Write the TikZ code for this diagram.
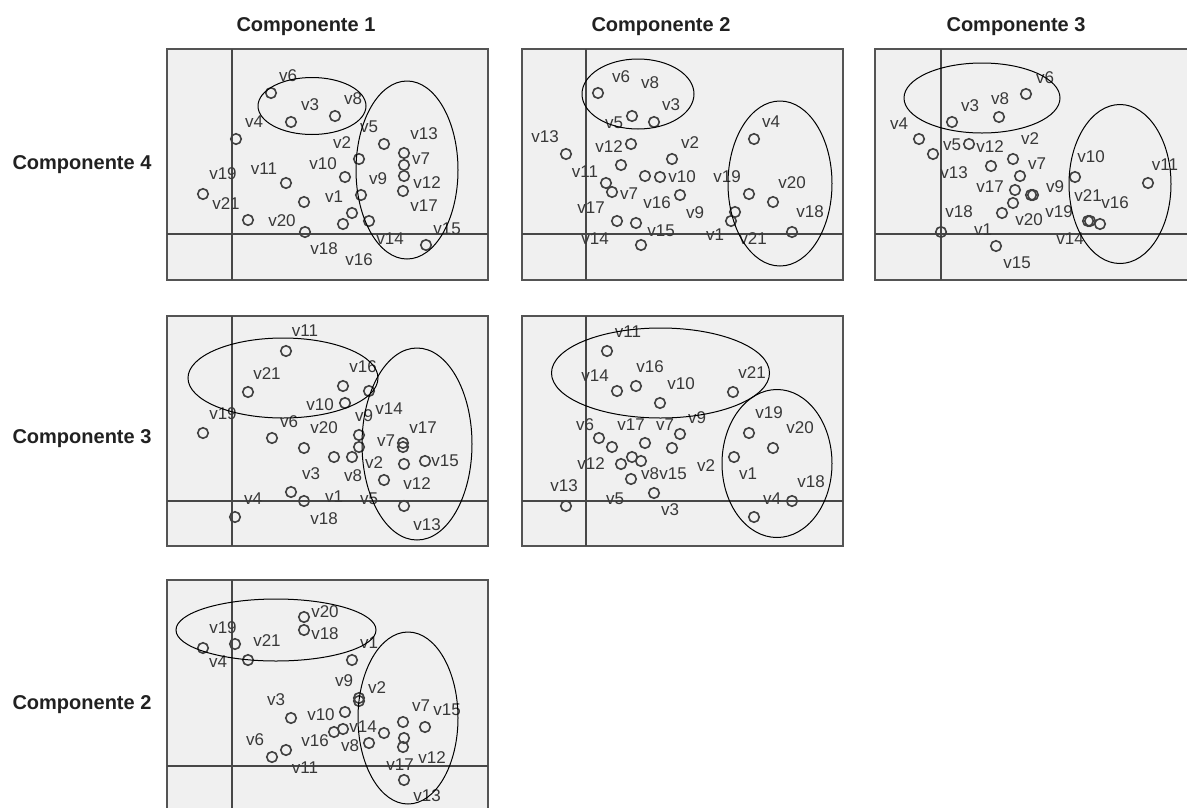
\documentclass[tikz,border=0pt]{standalone}
\usepackage{fontspec}
\setmainfont{Liberation Sans}
\definecolor{bgray}{gray}{0.94}
\definecolor{bord}{gray}{0.33}
\definecolor{axc}{gray}{0.28}
\definecolor{ptc}{gray}{0.25}
\definecolor{labc}{gray}{0.22}
\definecolor{titc}{gray}{0.13}
\begin{document}
\begin{tikzpicture}[x=1pt,y=-1pt,
  panel/.style={fill=bgray, draw=bord, line width=2pt},
  axis/.style={draw=axc, line width=1.6pt},
  pt/.style={circle, draw=ptc, line width=1.6pt, minimum size=10.5pt, inner sep=0pt},
  lab/.style={text=labc, inner sep=0pt, font=\fontsize{17}{17}\selectfont},
  grp/.style={draw=black, line width=1pt},
  ttl/.style={font=\fontsize{20}{20}\selectfont\bfseries, text=titc, inner sep=0pt, anchor=base}]
\useasboundingbox (0,0) rectangle (1187,807);
\clip (0,0) rectangle (1187,807);
\fill[white] (0,0) rectangle (1187,807);
% titles
\node[ttl] (t1) at (306,31) {Componente 1};
\node[ttl] (t2) at (661,31) {Componente 2};
\node[ttl] (t3) at (1016,31) {Componente 3};
\node[ttl] (r1) at (82,169) {Componente 4};
\node[ttl] (r2) at (82,443) {Componente 3};
\node[ttl] (r3) at (82,709) {Componente 2};
% panels
\draw[panel] (167,49) rectangle (488,280);
\draw[panel] (522,49) rectangle (843,280);
\draw[panel] (875,49) rectangle (1200,280);
\draw[panel] (167,316) rectangle (488,546);
\draw[panel] (522,316) rectangle (843,546);
\draw[panel] (167,580) rectangle (488,830);
% axes
\draw[axis] (232,49) -- (232,280); \draw[axis] (167,234) -- (488,234);
\draw[axis] (586,49) -- (586,280); \draw[axis] (522,234) -- (843,234);
\draw[axis] (941,49) -- (941,280); \draw[axis] (875,234) -- (1200,234);
\draw[axis] (232,316) -- (232,546); \draw[axis] (167,501) -- (488,501);
\draw[axis] (586,316) -- (586,546); \draw[axis] (522,501) -- (843,501);
\draw[axis] (232,580) -- (232,830); \draw[axis] (167,766) -- (488,766);
% ---------- panel 1 ----------
\foreach \x/\y [count=\i] in {271/93,291/122,335/116,236/139,384/144,359/159,404/153,404/165,404/176,403/191,345/177,286/183,203/194,304/202,361/195,248/220,352/213,343/224,369/221,305/232,426/245}
  \node[pt] (a\i) at (\x,\y) {};
\foreach \t/\x/\y in {v6/288/76,v3/310/105,v8/353/99,v4/254/122,v5/369/127,v2/342/143,v13/424/134,v7/421/159,v12/427/183,v17/424/206,v10/323/164,v11/264/169,v19/223/174,v21/226/204,v1/334/197,v9/378/179,v20/282/221,v14/390/239,v15/447/229,v18/324/249,v16/359/260}
  \node[lab] (a-\t) at (\x,\y) {\t};
\draw[grp] (312,106) ellipse [x radius=54, y radius=28.5];
\draw[grp] (407,170) ellipse [x radius=51, y radius=89];
% ---------- panel 2 ----------
\foreach \x/\y [count=\i] in {598/93,632/116,654/122,754/139,566/154,631/144,672/159,621/165,645/176,660/177,606/183,612/192,680/195,749/194,773/202,735/212,731/221,617/221,636/223,641/245,792/232}
  \node[pt] (b\i) at (\x,\y) {};
\foreach \t/\x/\y in {v6/621/77,v8/650/83,v3/671/105,v5/614/123,v4/771/122,v13/545/137,v12/609/147,v2/690/143,v11/585/172,v10/682/177,v19/727/177,v20/792/183,v7/629/194,v16/657/203,v17/591/208,v9/695/213,v18/810/212,v15/661/231,v14/595/239,v1/715/235,v21/753/239}
  \node[lab] (b-\t) at (\x,\y) {\t};
\draw[grp] (638,94) ellipse [x radius=56, y radius=35];
\draw[grp] (780,183.5) ellipse [x radius=52, y radius=82.5];
% ---------- panel 3 ----------
\foreach \x/\y [count=\i] in {1026/94,999/117,952/122,919/139,933/154,969/144,991/166,1013/159,1020/176,1015/190,1013/203,1033/195,1031/195,1002/213,1075/177,1148/183,1090/221,1088/221,1100/224,941/232,996/246}
  \node[pt] (c\i) at (\x,\y) {};
\foreach \t/\x/\y in {v6/1045/78,v3/970/106,v8/1000/99,v4/899/124,v5/952/145,v12/990/147,v2/1030/139,v13/954/173,v7/1037/164,v10/1091/157,v11/1165/165,v17/990/187,v9/1055/187,v21/1088/196,v16/1115/203,v18/959/212,v20/1029/220,v19/1059/212,v1/983/230,v14/1070/239,v15/1017/263}
  \node[lab] (c-\t) at (\x,\y) {\t};
\draw[grp] (982,98) ellipse [x radius=78, y radius=35];
\draw[grp] (1120,184) ellipse [x radius=51, y radius=79.5];
% ---------- panel 4 ----------
\foreach \x/\y [count=\i] in {286/351,248/392,343/386,369/391,345/403,203/433,272/438,304/448,359/435,359/447,334/457,352/457,403/443,403/447,404/464,425/461,384/480,291/492,304/501,235/517,404/506}
  \node[pt] (d\i) at (\x,\y) {};
\foreach \t/\x/\y in {v11/305/331,v21/267/374,v16/363/367,v10/320/405,v19/223/414,v6/289/422,v20/324/428,v9/364/416,v14/389/409,v17/423/428,v7/386/441,v15/445/461,v2/374/463,v12/417/484,v3/311/474,v8/353/476,v4/253/499,v1/334/497,v5/369/499,v18/324/519,v13/427/525}
  \node[lab] (d-\t) at (\x,\y) {\t};
\draw[grp] (283,378) ellipse [x radius=95, y radius=40];
\draw[grp] (417,444) ellipse [x radius=55, y radius=96];
% ---------- panel 5 ----------
\foreach \x/\y [count=\i] in {607/351,617/391,636/386,660/403,733/392,599/438,612/447,645/443,680/434,672/448,632/457,641/461,621/464,631/479,654/493,566/506,749/433,773/448,734/457,792/501,754/517}
  \node[pt] (e\i) at (\x,\y) {};
\foreach \t/\x/\y in {v11/628/332,v14/595/376,v16/650/367,v10/681/384,v21/752/373,v9/697/418,v19/769/413,v20/800/428,v6/585/425,v17/631/425,v7/665/425,v12/591/464,v2/706/466,v1/748/474,v8/650/474,v15/673/474,v18/811/482,v13/564/486,v5/615/499,v4/772/499,v3/670/510}
  \node[lab] (e-\t) at (\x,\y) {\t};
\draw[grp] (660.5,373) ellipse [x radius=109, y radius=45];
\draw[grp] (777,463.5) ellipse [x radius=55, y radius=74];
% ---------- panel 6 ----------
\foreach \x/\y [count=\i] in {304/617,304/630,203/648,235/644,248/660,352/660,359/698,359/701,345/712,291/718,334/732,343/729,384/733,369/743,403/722,425/727,404/738,403/747,286/750,272/757,404/780}
  \node[pt] (f\i) at (\x,\y) {};
\foreach \t/\x/\y in {v20/325/612,v18/325/634,v19/223/628,v21/267/641,v4/218/662,v1/369/643,v9/344/681,v2/377/688,v3/276/700,v10/321/715,v14/363/727,v7/421/706,v15/447/710,v6/255/740,v16/315/741,v8/350/746,v17/400/765,v12/432/758,v11/305/768,v13/427/796}
  \node[lab] (f-\t) at (\x,\y) {\t};
\draw[grp] (276,630) ellipse [x radius=100, y radius=31];
\draw[grp] (408,718) ellipse [x radius=50, y radius=86];
\end{tikzpicture}
\end{document}
